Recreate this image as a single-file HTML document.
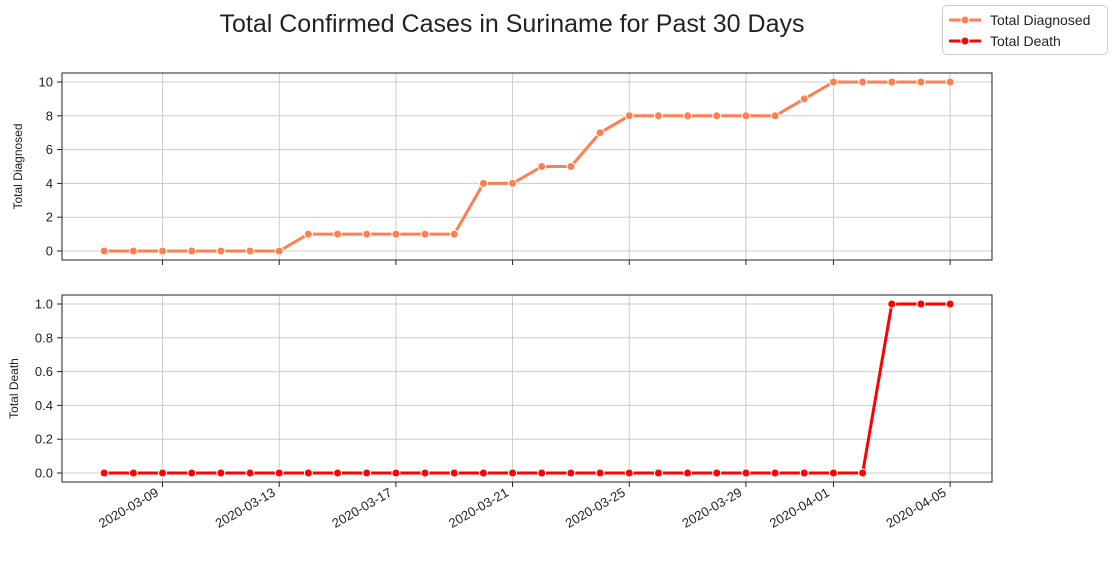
<!DOCTYPE html>
<html><head><meta charset="utf-8"><style>
body{margin:0;background:#fff;font-family:"Liberation Sans","DejaVu Sans",sans-serif;}
svg text{font-family:"Liberation Sans","DejaVu Sans",sans-serif;}
</style></head><body>
<svg id="c" width="1114" height="556" xmlns="http://www.w3.org/2000/svg"></svg>
<script>
const dates=["2020-03-07","2020-03-08","2020-03-09","2020-03-10","2020-03-11","2020-03-12","2020-03-13","2020-03-14","2020-03-15","2020-03-16","2020-03-17","2020-03-18","2020-03-19","2020-03-20","2020-03-21","2020-03-22","2020-03-23","2020-03-24","2020-03-25","2020-03-26","2020-03-27","2020-03-28","2020-03-29","2020-03-30","2020-03-31","2020-04-01","2020-04-02","2020-04-03","2020-04-04","2020-04-05"];
const diagnosed=[0,0,0,0,0,0,0,1,1,1,1,1,1,4,4,5,5,7,8,8,8,8,8,8,9,10,10,10,10,10];
const deaths=[0,0,0,0,0,0,0,0,0,0,0,0,0,0,0,0,0,0,0,0,0,0,0,0,0,0,0,1,1,1];
const xTickLabels=["2020-03-09","2020-03-13","2020-03-17","2020-03-21","2020-03-25","2020-03-29","2020-04-01","2020-04-05"];
const topTicks=[0,2,4,6,8,10];
const botTicks=[0,0.2,0.4,0.6,0.8,1.0];

const svg=document.getElementById('c');
const NS="http://www.w3.org/2000/svg";
function el(t,a,p){const e=document.createElementNS(NS,t);for(const k in a)e.setAttribute(k,a[k]);(p||svg).appendChild(e);return e;}
const day0=Date.parse("2020-03-07");
function x(d){return 104.2+(Date.parse(d)-day0)/86400000*29.17;}
const panels=[
 {top:73,bot:260,y0:251,y1:82,max:10,ticks:topTicks,data:diagnosed,color:"#ff7f50",label:"Total Diagnosed",fmt:v=>String(v),name:"diagnosed"},
 {top:295,bot:482,y0:473,y1:304,max:1,ticks:botTicks,data:deaths,color:"#ff0000",label:"Total Death",fmt:v=>v.toFixed(1),name:"death"}
];
const t=el('text',{x:512,y:32,'font-size':25,'text-anchor':'middle',fill:'#222'});


t.textContent="Total Confirmed Cases in Suriname for Past 30 Days";
panels.forEach((p,pi)=>{
 const g=el('g',{});
 
 
 const y=v=>p.y0+(p.y1-p.y0)*v/p.max;
 xTickLabels.forEach(d=>{const xx=x(d);
  el('line',{x1:xx,x2:xx,y1:p.top,y2:p.bot,stroke:'#cccccc','stroke-width':1},g);
  el('line',{x1:xx,x2:xx,y1:p.bot,y2:p.bot+5,stroke:'#222','stroke-width':1},g);
 });
 p.ticks.forEach(v=>{const yy=y(v);
  el('line',{x1:62,x2:992,y1:yy,y2:yy,stroke:'#cccccc','stroke-width':1},g);
  el('line',{x1:57,x2:62,y1:yy,y2:yy,stroke:'#222','stroke-width':1},g);
  const tt=el('text',{x:53,y:yy+4.5,'font-size':13,'text-anchor':'end',fill:'#222'},g);
  
  
  tt.textContent=p.fmt(v);
 });
 el('rect',{x:62,y:p.top,width:930,height:p.bot-p.top,fill:'none',stroke:'#222','stroke-width':1},g);
 const yl=el('text',{transform:`translate(${pi?18:22},${(p.top+p.bot)/2}) rotate(-90)`,'font-size':12,'text-anchor':'middle',fill:'#222'},g);
 
 
 yl.textContent=p.label;
 const pts=p.data.map((v,i)=>x(dates[i])+','+y(v)).join(' ');
 const line=el('polyline',{points:pts,fill:'none',stroke:p.color,'stroke-width':3,'stroke-linejoin':'round'},g);
 
 
 p.data.forEach((v,i)=>{
  const c=el('circle',{cx:x(dates[i]),cy:y(v),r:4,fill:p.color,stroke:'#fff','stroke-width':1},g);
  
  
 });
});
xTickLabels.forEach(d=>{const xx=x(d);
 const tt=el('text',{transform:`translate(${xx-3},${495}) rotate(-30)`,'font-size':13,'text-anchor':'end',fill:'#222'});
 
 
 tt.textContent=d;
});
const lg=el('g',{});


el('rect',{x:942.5,y:5.5,width:165,height:49,rx:4,fill:'#fff',stroke:'#ccc'},lg);
panels.forEach((p,i)=>{const yy=20+i*21;
 el('line',{x1:949,x2:981,y1:yy,y2:yy,stroke:p.color,'stroke-width':3},lg);
 el('circle',{cx:965,cy:yy,r:4,fill:p.color,stroke:'#fff'},lg);
 const tt=el('text',{x:990,y:yy+5,'font-size':14,fill:'#222'},lg);
 
 
 tt.textContent=p.label;
});
</script>
</body></html>
